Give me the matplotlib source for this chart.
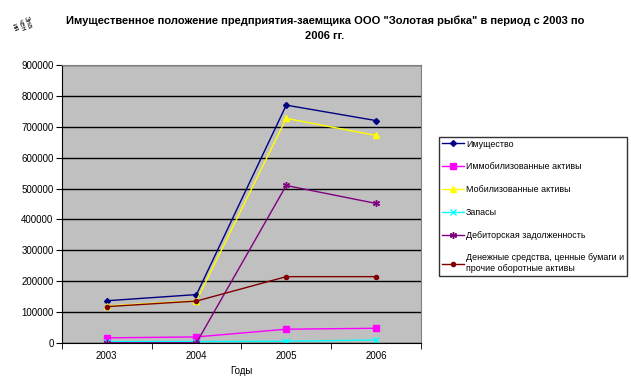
import matplotlib
matplotlib.use("Agg")
import matplotlib.pyplot as plt

plt.rcParams['font.family'] = ['Liberation Sans', 'DejaVu Sans']

years = ["2003", "2004", "2005", "2006"]
imushchestvo = [137000, 157000, 770000, 720000]
immob = [17000, 20000, 45000, 48000]
mobil = [120000, 137000, 727000, 672000]
zapasy = [5000, 5000, 6000, 10000]
debitor = [1000, 1000, 510000, 452000]
denezhnye = [118000, 136000, 215000, 215000]

series = [
    ("Имущество", imushchestvo, "#000080", "D", 3),
    ("Иммобилизованные активы", immob, "#FF00FF", "s", 4),
    ("Мобилизованные активы", mobil, "#FFFF00", "^", 4),
    ("Запасы", zapasy, "#00FFFF", "x", 4),
    ("Дебиторская задолженность", debitor, "#800080", (6, 2, 0), 5),
    ("Денежные средства, ценные бумаги и\nпрочие оборотные активы", denezhnye, "#800000", "o", 3),
]

fig = plt.figure(figsize=(6.31, 3.89), dpi=100)
ax = fig.add_axes([0.098, 0.118, 0.569, 0.715])
ax.set_facecolor("#C0C0C0")

x = range(1, len(years) + 1)
for name, vals, col, mk, ms in series:
    ax.plot(x, vals, color=col, marker=mk, markersize=ms, linewidth=1,
            markeredgecolor=col, markerfacecolor=col, label=name)

ax.set_xlim(0.5, 4.5)
ax.set_ylim(0, 900000)
ax.set_yticks(range(0, 900001, 100000))
ax.set_yticklabels([str(v) for v in range(0, 900001, 100000)], fontsize=7)
ax.set_xticks(list(x))
ax.set_xticklabels(years, fontsize=7)
ax.set_xticks([0.5, 1.5, 2.5, 3.5, 4.5], minor=True)
ax.tick_params(axis='x', which='major', length=0, pad=6)
ax.tick_params(axis='x', which='minor', length=4, direction='out')
ax.tick_params(axis='y', length=4, direction='out', pad=2)
ax.yaxis.grid(True, color="black", linewidth=1)
ax.set_axisbelow(True)
for s in ["top", "right"]:
    ax.spines[s].set_color("#808080")
for s in ["left", "bottom"]:
    ax.spines[s].set_color("black")
ax.set_xlabel("Годы", fontsize=7, labelpad=3)

fig.text(0.515, 0.928, "Имущественное положение предприятия-заемщика ООО \"Золотая рыбка\" в период с 2003 по\n2006 гг.",
         ha="center", va="center", fontsize=8, fontweight="bold", linespacing=1.6)
fig.text(0.033, 0.935, "Зна\nчен\nия", rotation=-70, fontsize=5.5, ha="center", va="center",
         linespacing=0.9)

leg = fig.legend(loc="upper left", bbox_to_anchor=(0.696, 0.648), fontsize=6.4,
                 frameon=True, fancybox=False, edgecolor="black", borderpad=0.3,
                 labelspacing=1.55, handlelength=2.5, handletextpad=0.2, borderaxespad=0)
leg.get_frame().set_linewidth(1)

fig.savefig("out.png", dpi=100)
